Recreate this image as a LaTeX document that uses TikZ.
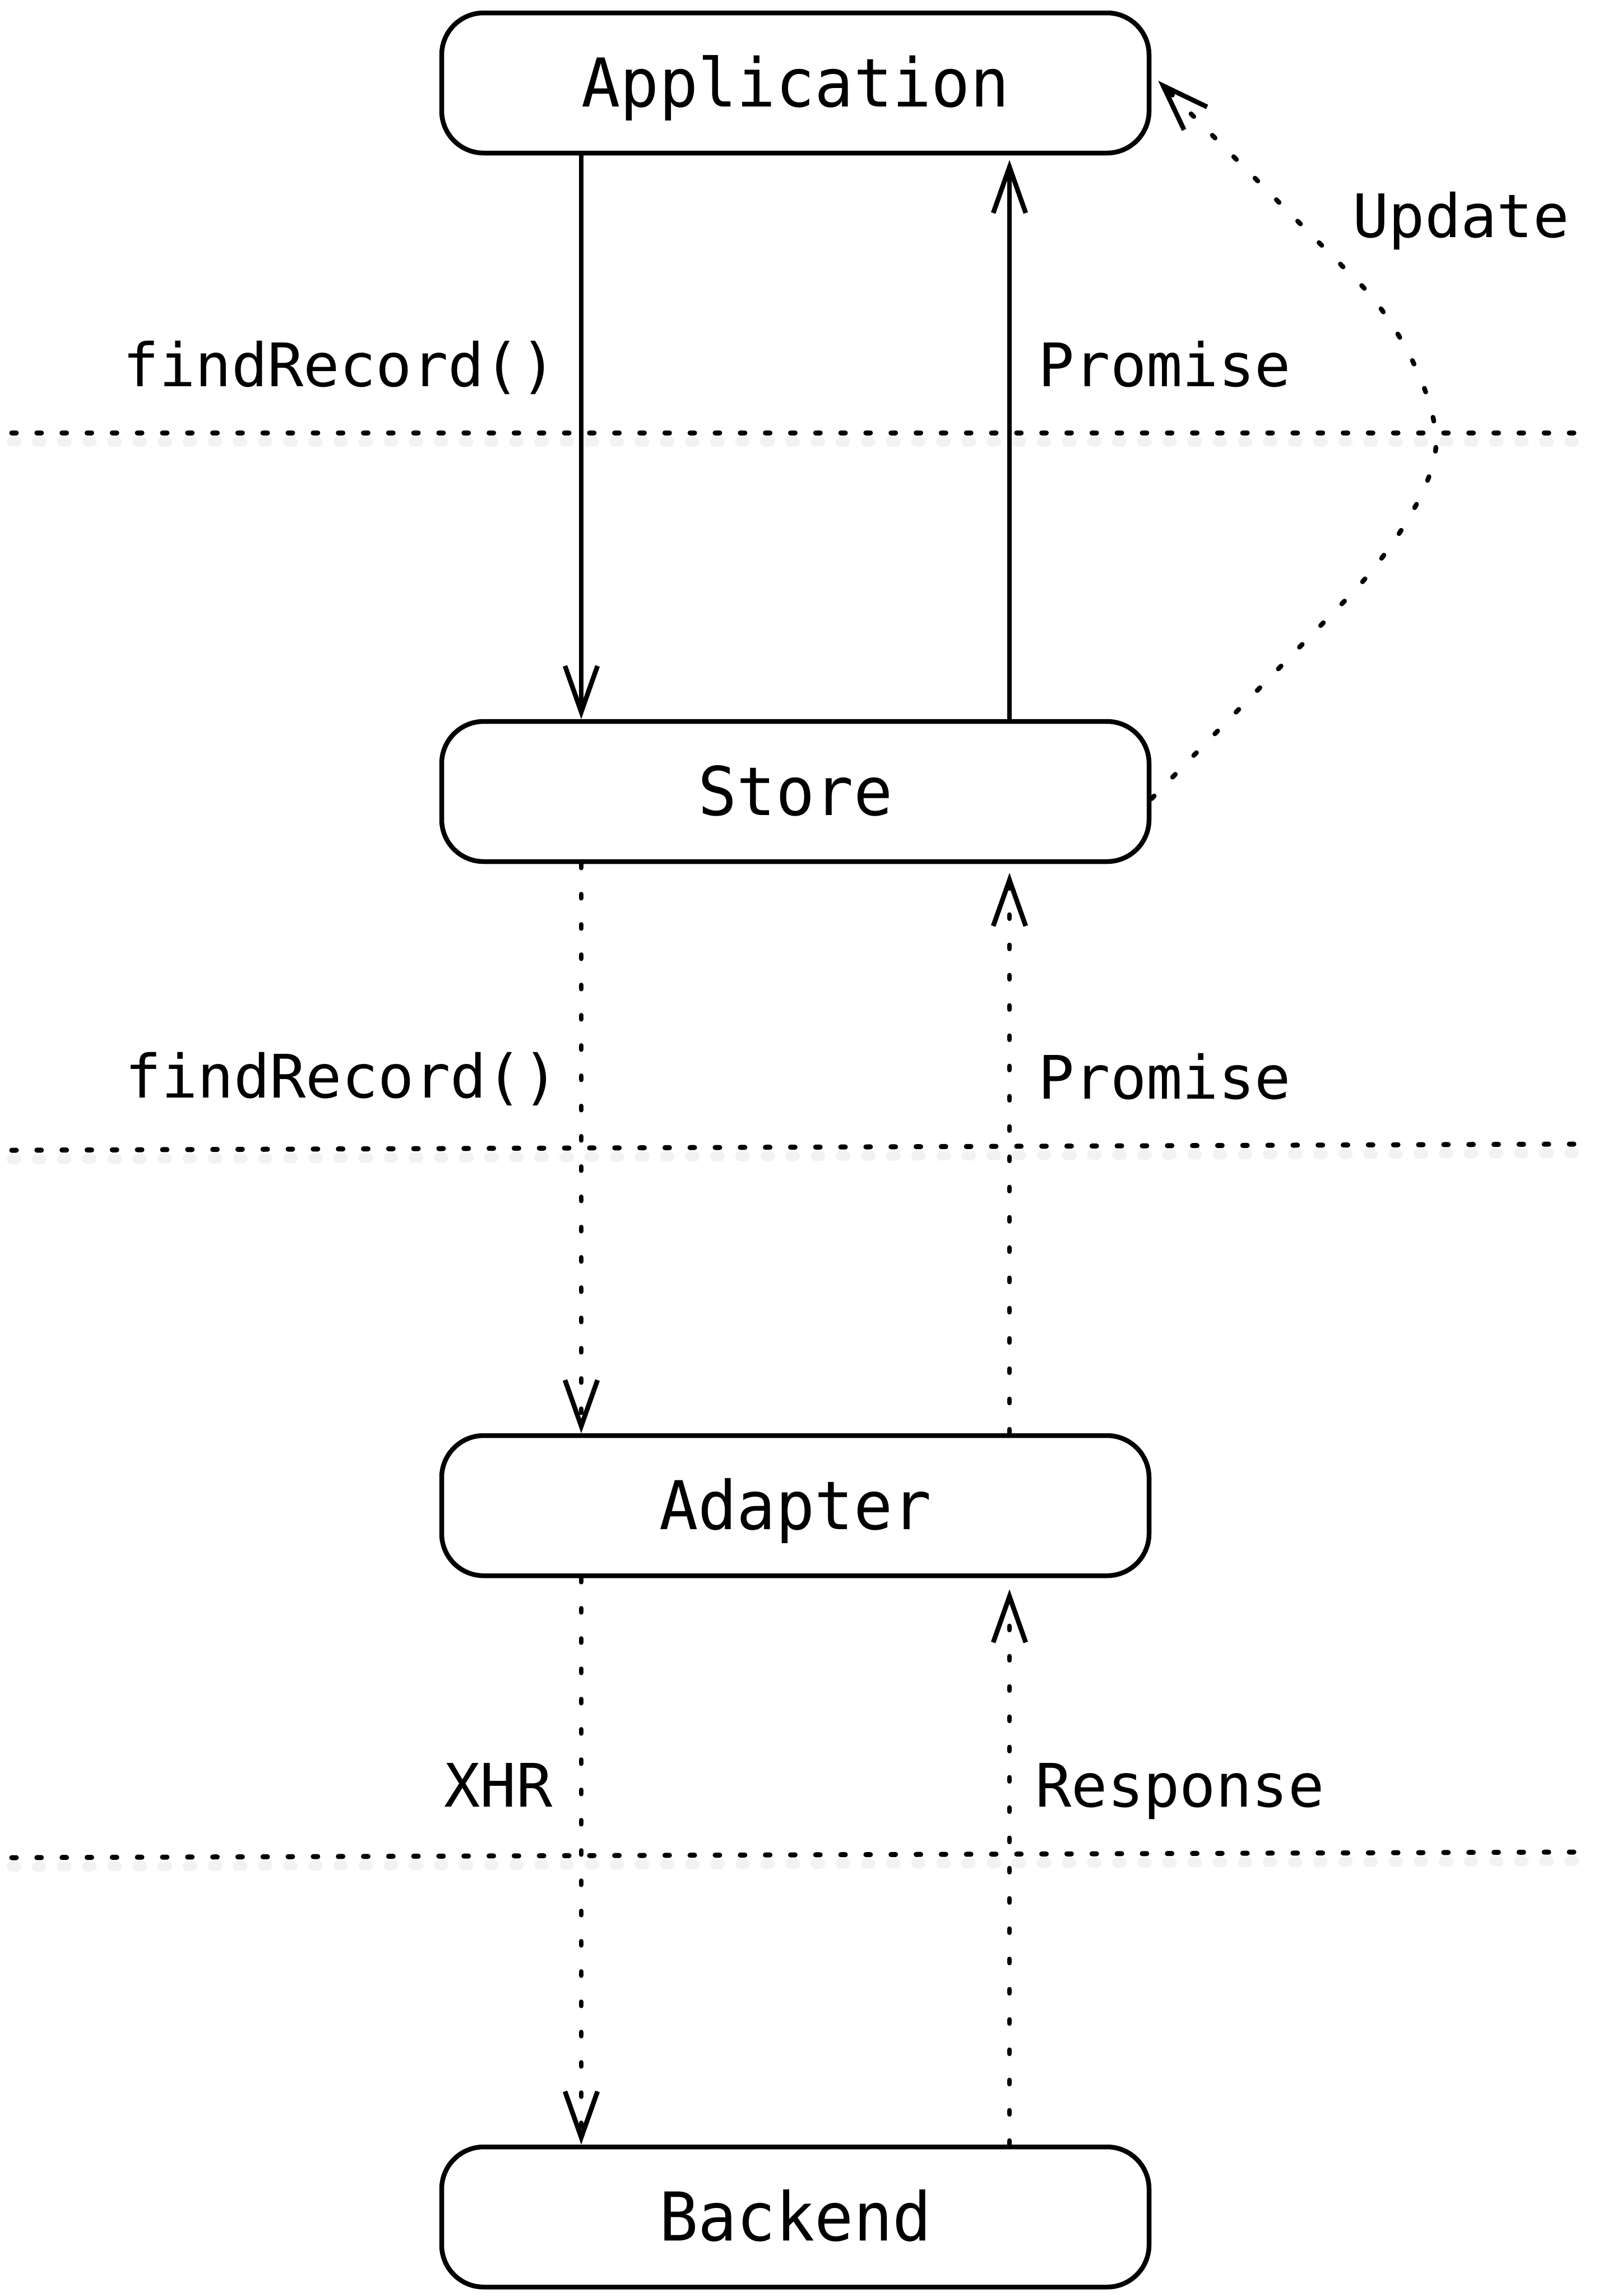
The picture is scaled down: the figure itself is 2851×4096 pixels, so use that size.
\documentclass[tikz,border=0pt]{standalone}
\usepackage{fontspec}
\newfontfamily\dvm{DejaVu Sans Mono}
\newfontfamily\dvmn[FakeStretch=0.96]{DejaVu Sans Mono}
\usetikzlibrary{arrows.meta}
\begin{document}
\begin{tikzpicture}[x=1pt,y=-1pt,
  box/.style={draw, line width=8.5pt, rounded corners=75pt,
    minimum width=1262pt, minimum height=250pt, inner sep=0pt,
    font=\dvmn\fontsize{120}{140}\selectfont, text height=100pt, text depth=16pt},
  lab/.style={font=\dvm\fontsize{107}{120}\selectfont, inner sep=0pt},
  hdots/.style={line width=9pt, line cap=round, dash pattern=on 8pt off 36.82pt},
  hshadow/.style={line width=18pt, draw=black!5, line cap=round, dash pattern=on 8pt off 36.82pt},
  vdots/.style={line width=8.5pt, line cap=round, dash pattern=on 7pt off 47pt},
  barb/.style={-{Straight Barb[length=82pt,width=58pt,sharp]}},
  solidarrow/.style={line width=8.5pt, barb},
  dotarrow/.style={vdots, barb},
]
\useasboundingbox[fill=white] (0,0) rectangle (2851,4096);

% separators (with a faint shadow)
\draw[hshadow] (21,788) -- (2810,788);
\draw[hshadow] (21,2068) -- (2810,2057);
\draw[hshadow] (21,3330) -- (2810,3320);
\draw[hdots] (21,772) -- (2810,772);
\draw[hdots] (21,2052) -- (2810,2041);
\draw[hdots] (21,3314) -- (2810,3304);

% boxes
\node[box] (app) at (1419,148) {Application};
\node[box] (store) at (1419,1412) {Store};
\node[box] (adapter) at (1419,2686) {Adapter};
\node[box] (backend) at (1419,3955) {Backend};

\coordinate (L) at (1037,0);
\coordinate (R) at (1801,0);

% labels
\node[lab, anchor=base east] (l1) at (993,689) {findRecord()};
\node[lab, anchor=base west] (l2) at (1852,689) {Promise};
\node[lab, anchor=base west] (l3) at (2413,423) {Update};
\node[lab, anchor=base east] (l4) at (997,1958) {findRecord()};
\node[lab, anchor=base west] (l5) at (1852,1960) {Promise};
\node[lab, anchor=base east] (l6) at (986,3223) {XHR};
\node[lab, anchor=base west] (l7) at (1847,3223) {Response};

% connectors
\draw[solidarrow] (app.south -| L) -- (store.north -| L);
\draw[solidarrow, shorten >=8pt] (store.north -| R) -- (app.south -| R);
\draw[dotarrow] (store.south -| L) -- (adapter.north -| L);
\draw[dotarrow, shorten >=16pt] (adapter.north -| R) -- (store.south -| R);
\draw[dotarrow] (adapter.south -| L) -- (backend.north -| L);
\draw[dotarrow, shorten >=20pt] (backend.north -| R) -- (adapter.south -| R);
\draw[dotarrow] ([yshift=-13pt]store.east) -- (2400,1071)
   .. controls (2470,1001) and (2562,870) .. (2562,790)
   .. controls (2562,700) and (2485,562) .. (2420,500)
   -- ([xshift=12pt,yshift=4pt]app.east);
\end{tikzpicture}
\end{document}
